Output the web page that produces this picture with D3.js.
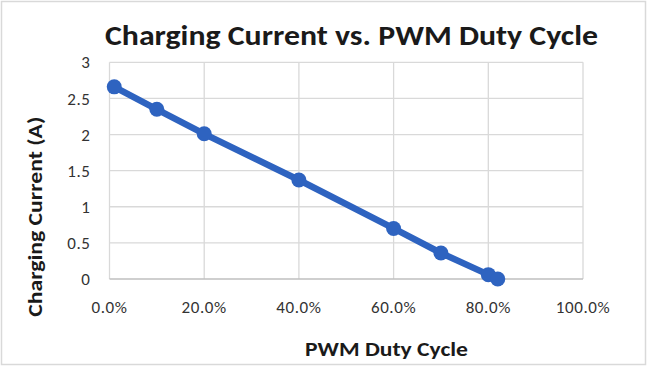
<!DOCTYPE html>
<html>
<head>
<meta charset="utf-8">
<script src="https://cdn.jsdelivr.net/npm/d3@7"></script>
<style>
  html, body { margin: 0; padding: 0; background: #fff; }
  text { font-family: Carlito, Calibri, Lato, "Open Sans", sans-serif; }
</style>
</head>
<body>
<div id="chart"></div>
<script>
// data
const dutyCycle = [0.01, 0.10, 0.20, 0.40, 0.60, 0.70, 0.80, 0.82];
const current   = [2.66, 2.35, 2.01, 1.37, 0.70, 0.36, 0.06, 0.00];
const xTicks = [0, 0.2, 0.4, 0.6, 0.8, 1.0];
const yTicks = [0, 0.5, 1, 1.5, 2, 2.5, 3];
const titleText = "Charging Current vs. PWM Duty Cycle";
const xLabel = "PWM Duty Cycle";
const yLabel = "Charging Current (A)";

const width = 650, height = 369;
const plot = { left: 109.5, right: 583, top: 62.3, bottom: 279 };

const svg = d3.select("#chart").append("svg")
    .attr("width", width)
    .attr("height", height);

// outer chart border
svg.append("rect")
    .attr("x", 1.5).attr("y", 1.5)
    .attr("width", 644).attr("height", 363)
    .attr("fill", "#fff")
    .attr("stroke", "#d9d9d9")
    .attr("stroke-width", 1.5);

const x = d3.scaleLinear().domain([0, 1]).range([plot.left, plot.right]);
const y = d3.scaleLinear().domain([0, 3]).range([plot.bottom, plot.top]);

// gridlines
const grid = svg.append("g").attr("stroke", "#d9d9d9").attr("stroke-width", 1.3);
grid.selectAll(".gx").data(xTicks).join("line")
    .attr("x1", d => x(d)).attr("x2", d => x(d))
    .attr("y1", plot.top).attr("y2", plot.bottom);
grid.selectAll(".gy").data(yTicks.slice(1)).join("line")
    .attr("x1", plot.left).attr("x2", plot.right)
    .attr("y1", d => y(d)).attr("y2", d => y(d));

// x axis line
svg.append("line")
    .attr("x1", plot.left).attr("x2", plot.right)
    .attr("y1", y(0)).attr("y2", y(0))
    .attr("stroke", "#bfbfbf").attr("stroke-width", 1.3);

// tick labels
svg.append("g").selectAll("text").data(yTicks).join("text")
    .attr("x", plot.left - 19)
    .attr("y", d => y(d))
    .attr("dy", "0.36em")
    .attr("text-anchor", "end")
    .attr("font-size", 17)
    .attr("letter-spacing", 0.6)
    .attr("fill", "#333")
    .text(d => d);

svg.append("g").selectAll("text").data(xTicks).join("text")
    .attr("x", d => x(d))
    .attr("y", 313)
    .attr("text-anchor", "middle")
    .attr("font-size", 17)
    .attr("letter-spacing", 0.6)
    .attr("fill", "#333")
    .text(d => d3.format(".1%")(d));

// title and axis labels
svg.append("text")
    .attr("x", 351.5).attr("y", 45)
    .attr("text-anchor", "middle")
    .attr("font-size", 28).attr("font-weight", "bold")
    .attr("fill", "#1a1a1a")
    .attr("textLength", 493).attr("lengthAdjust", "spacingAndGlyphs")
    .text(titleText);

svg.append("text")
    .attr("x", 386.5).attr("y", 356)
    .attr("text-anchor", "middle")
    .attr("font-size", 20).attr("font-weight", "bold")
    .attr("fill", "#1a1a1a")
    .attr("textLength", 163).attr("lengthAdjust", "spacingAndGlyphs")
    .text(xLabel);

svg.append("text")
    .attr("transform", "translate(42,216.7) rotate(-90)")
    .attr("text-anchor", "middle")
    .attr("font-size", 20).attr("font-weight", "bold")
    .attr("fill", "#1a1a1a")
    .attr("textLength", 200).attr("lengthAdjust", "spacingAndGlyphs")
    .text(yLabel);

// series
const pts = dutyCycle.map((d, i) => [d, current[i]]);
const line = d3.line().x(d => x(d[0])).y(d => y(d[1]));

svg.append("path")
    .datum(pts)
    .attr("d", line)
    .attr("fill", "none")
    .attr("stroke", "#2e63c0")
    .attr("stroke-width", 6.5)
    .attr("stroke-linejoin", "round");

svg.append("g").selectAll("circle").data(pts).join("circle")
    .attr("cx", d => x(d[0]))
    .attr("cy", d => y(d[1]))
    .attr("r", 7.5)
    .attr("fill", "#2e63c0");
</script>
</body>
</html>
